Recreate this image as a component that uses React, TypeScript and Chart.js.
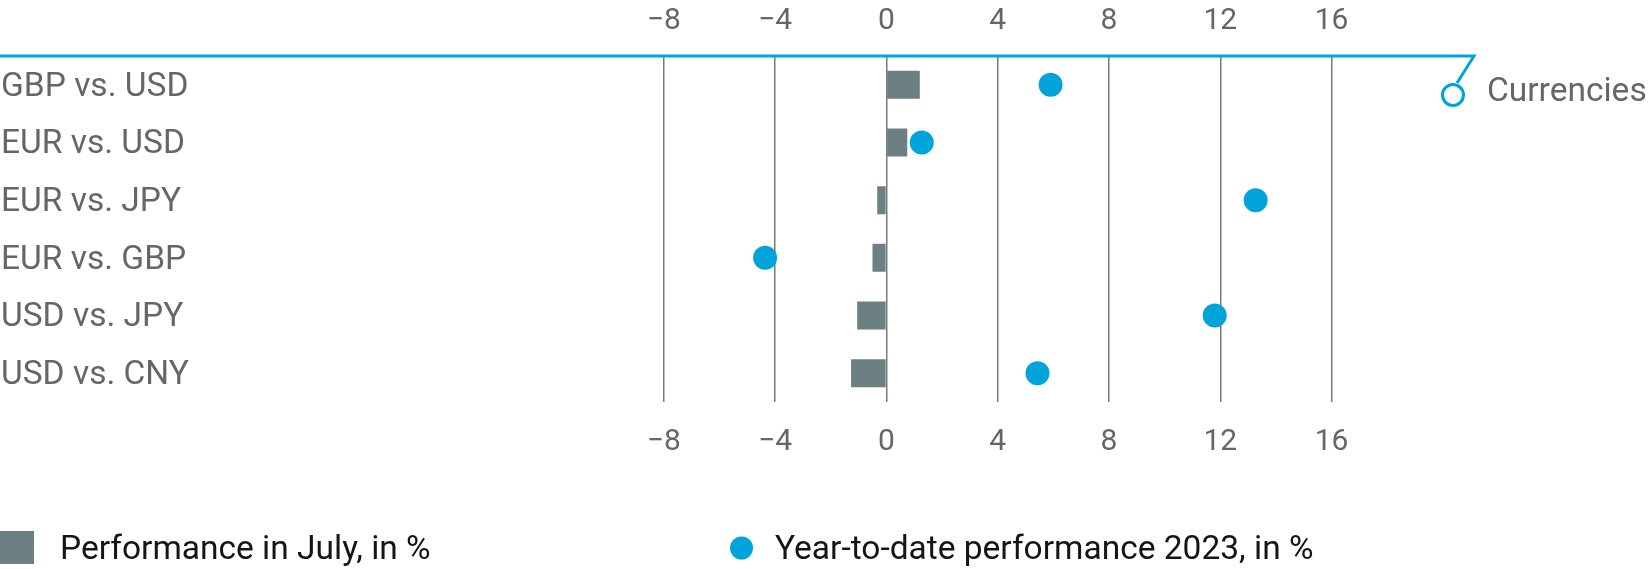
import { useEffect, useRef } from 'react';
import { Chart, registerables } from 'chart.js';

Chart.register(...registerables);

const categories = ['GBP vs. USD', 'EUR vs. USD', 'EUR vs. JPY', 'EUR vs. GBP', 'USD vs. JPY', 'USD vs. CNY'];
const julyPerf = [1.2, 0.75, -0.33, -0.5, -1.05, -1.27];
const ytdPerf = [5.9, 1.27, 13.27, -4.36, 11.8, 5.43];
const xMin = -8;
const xMax = 16;
const xStep = 4;
const seriesLabels = ['Performance in July, in %', 'Year-to-date performance 2023, in %'];
const groupLabel = 'Currencies';

const BAR = '#6c7f83';
const BLUE = '#00a3da';
const GRID = '#7a7a7a';
const TEXT = '#666666';
const FONT = 'Roboto';

const fmt = (v: number | string) => {
  const n = Number(v);
  return n < 0 ? '\u2212' + Math.abs(n) : String(n);
};

const decorPlugin = {
  id: 'decor',
  afterDraw(chart: any) {
    const { ctx, chartArea } = chart;
    const top = chartArea.top;
    ctx.save();
    // top axis line
    ctx.strokeStyle = BLUE;
    ctx.lineWidth = 3;
    ctx.lineCap = 'butt';
    ctx.beginPath();
    ctx.moveTo(0, top);
    ctx.lineTo(1474, top);
    ctx.lineTo(1457, top + 27);
    ctx.stroke();
    // callout circle
    ctx.beginPath();
    ctx.arc(1453, top + 39, 10.5, 0, Math.PI * 2);
    ctx.fillStyle = '#ffffff';
    ctx.fill();
    ctx.stroke();
    // group label
    ctx.fillStyle = TEXT;
    ctx.font = `33.5px ${FONT}`;
    ctx.textBaseline = 'middle';
    ctx.textAlign = 'left';
    ctx.fillText(groupLabel, 1487, top + 37);

    // legend
    const ds = chart.data.datasets;
    const ly = 548;
    ctx.fillStyle = ds[0].backgroundColor;
    ctx.fillRect(0, 531, 34, 33);
    ctx.beginPath();
    ctx.arc(741.5, ly, 11.5, 0, Math.PI * 2);
    ctx.fillStyle = ds[1].pointBackgroundColor;
    ctx.fill();
    ctx.fillStyle = '#151515';
    ctx.font = `33.5px ${FONT}`;
    ctx.fillText(ds[0].label, 60, ly + 3);
    ctx.fillText(ds[1].label, 775, ly + 3);
    ctx.restore();
  },
};

export default function App() {
  const ref = useRef<HTMLCanvasElement>(null);
  useEffect(() => {
    if (!ref.current) return;
    const chart = new Chart(ref.current, {
      type: 'bar',
      data: {
        labels: categories,
        datasets: [
          {
            type: 'bar',
            label: seriesLabels[0],
            data: julyPerf,
            backgroundColor: BAR,
            borderWidth: 0,
            barPercentage: 0.485,
            categoryPercentage: 1,
            xAxisID: 'x',
            yAxisID: 'y',
            order: 2,
          } as any,
          {
            type: 'line',
            label: seriesLabels[1],
            data: ytdPerf,
            indexAxis: 'y',
            showLine: false,
            pointRadius: 12,
            pointHoverRadius: 12,
            pointBorderWidth: 0,
            pointBackgroundColor: BLUE,
            backgroundColor: BLUE,
            borderColor: BLUE,
            xAxisID: 'x',
            yAxisID: 'y',
            order: 1,
          } as any,
        ],
      },
      options: {
        indexAxis: 'y',
        animation: false,
        responsive: false,
        events: [],
        layout: { padding: { left: 1, right: 317.4, top: 0, bottom: 0 } },
        plugins: { legend: { display: false }, tooltip: { enabled: false } },
        scales: {
          x: {
            position: 'bottom',
            min: xMin,
            max: xMax,
            afterFit: (s: any) => { s.height = 167; },
            grid: { color: GRID, lineWidth: 1.5, drawTicks: false },
            border: { display: false },
            ticks: {
              stepSize: xStep,
              padding: 22.8,
              color: TEXT,
              font: { family: FONT, size: 30 },
              callback: (v: any) => fmt(v),
            },
          },
          x2: {
            position: 'top',
            min: xMin,
            max: xMax,
            afterFit: (s: any) => { s.height = 56; },
            grid: { display: false, drawTicks: false },
            border: { display: false },
            ticks: {
              stepSize: xStep,
              padding: 16.2,
              color: TEXT,
              font: { family: FONT, size: 30 },
              callback: (v: any) => fmt(v),
            },
          },
          y: {
            position: 'left',
            afterFit: (s: any) => { s.width = 662.8; },
            grid: { display: false, drawTicks: false },
            border: { display: false },
            ticks: {
              crossAlign: 'far',
              labelOffset: 2.5,
              color: TEXT,
              font: { family: FONT, size: 33.5 },
            },
          },
        },
      } as any,
      plugins: [decorPlugin],
    });
    return () => chart.destroy();
  }, []);
  return (
    <div style={{ position: 'fixed', left: 0, top: 0, width: 1649, height: 569, background: '#fff' }}>
      <canvas ref={ref} width={1649} height={569} style={{ width: 1649, height: 569, display: 'block' }} />
    </div>
  );
}
